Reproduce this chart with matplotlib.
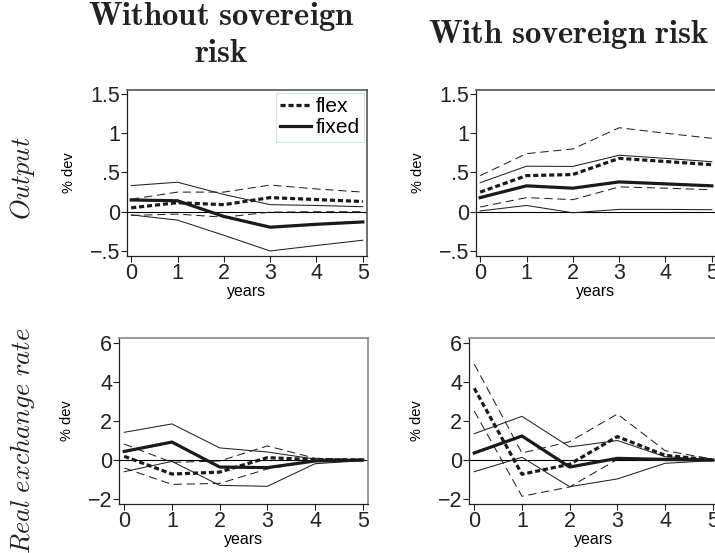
import matplotlib
matplotlib.use("Agg")
import matplotlib.pyplot as plt

plt.rcParams['font.family'] = ['Liberation Sans', 'DejaVu Sans']
plt.rcParams['mathtext.fontset'] = 'cm'

years = [0, 1, 2, 3, 4, 5]

# Output, without sovereign risk
out_nosr_flex = [0.05, 0.115, 0.09, 0.18, 0.155, 0.13]
out_nosr_flex_hi = [0.16, 0.25, 0.25, 0.34, 0.29, 0.25]
out_nosr_flex_lo = [-0.047, -0.03, -0.07, -0.005, 0.0, 0.0]
out_nosr_fixed = [0.15, 0.14, -0.06, -0.197, -0.16, -0.13]
out_nosr_fixed_hi = [0.333, 0.376, 0.22, 0.09, 0.08, 0.064]
out_nosr_fixed_lo = [-0.04, -0.107, -0.30, -0.50, -0.43, -0.363]

# Output, with sovereign risk
out_sr_flex = [0.25, 0.46, 0.474, 0.68, 0.64, 0.60]
out_sr_flex_hi = [0.46, 0.74, 0.80, 1.07, 1.0, 0.936]
out_sr_flex_lo = [0.06, 0.18, 0.154, 0.316, 0.30, 0.28]
out_sr_fixed = [0.18, 0.33, 0.30, 0.38, 0.355, 0.33]
out_sr_fixed_hi = [0.37, 0.58, 0.577, 0.72, 0.68, 0.637]
out_sr_fixed_lo = [0.01, 0.08, -0.013, 0.03, 0.03, 0.026]

# Real exchange rate, without sovereign risk
rer_nosr_flex = [0.19, -0.72, -0.62, 0.12, 0.02, 0.0]
rer_nosr_flex_hi = [0.82, -0.12, -0.05, 0.72, 0.09, 0.03]
rer_nosr_flex_lo = [-0.41, -1.25, -1.2, -0.46, -0.05, -0.02]
rer_nosr_fixed = [0.44, 0.92, -0.36, -0.39, -0.05, 0.0]
rer_nosr_fixed_hi = [1.42, 1.85, 0.62, 0.41, 0.05, 0.0]
rer_nosr_fixed_lo = [-0.6, -0.07, -1.3, -1.35, -0.19, -0.03]

# Real exchange rate, with sovereign risk
rer_sr_flex = [3.68, -0.73, -0.22, 1.2, 0.24, 0.0]
rer_sr_flex_hi = [4.92, 0.36, 0.94, 2.36, 0.48, 0.05]
rer_sr_flex_lo = [2.51, -1.86, -1.38, 0.03, -0.03, -0.03]
rer_sr_fixed = [0.36, 1.23, -0.36, 0.085, 0.03, 0.0]
rer_sr_fixed_hi = [1.35, 2.24, 0.67, 1.0, 0.17, 0.02]
rer_sr_fixed_lo = [-0.6, 0.14, -1.37, -0.97, -0.17, -0.03]

out_yticks = [-0.5, 0, 0.5, 1, 1.5]
out_yticklabels = ['\u2212.5', '0', '.5', '1', '1.5']
rer_yticks = [-2, 0, 2, 4, 6]
rer_yticklabels = ['\u22122', '0', '2', '4', '6']

W, H = 715, 553
fig = plt.figure(figsize=(W / 100, H / 100), dpi=100)


def add_ax(x0, y0, x1, y1):
    return fig.add_axes([x0 / W, 1 - y1 / H, (x1 - x0) / W, (y1 - y0) / H])


def panel(ax, flex, flex_hi, flex_lo, fixed, fixed_hi, fixed_lo,
          yticks, ylabels, ylim, xlim, frame_col, legend=False):
    ax.axhline(0, color='black', lw=0.8, zorder=1)
    thin = dict(color='#222222', lw=0.75, zorder=2)
    ax.plot(years, flex_hi, ls=(0, (8, 4.5)), **thin)
    ax.plot(years, flex_lo, ls=(0, (8, 4.5)), **thin)
    ax.plot(years, fixed_hi, ls='-', **thin)
    ax.plot(years, fixed_lo, ls='-', **thin)
    l1, = ax.plot(years, flex, color='#1a1a1a', lw=2.3, ls=(0, (1.6, 0.9)),
                  zorder=3, label='flex')
    l2, = ax.plot(years, fixed, color='#1a1a1a', lw=2.3, ls='-', zorder=3,
                  label='fixed')
    ax.set_xlim(*xlim)
    ax.set_ylim(*ylim)
    ax.set_xticks(years)
    ax.set_xticklabels([str(y) for y in years])
    ax.set_yticks(yticks)
    ax.set_yticklabels(ylabels)
    ax.tick_params(axis='both', labelsize=15.5, length=4, width=0.8,
                   colors='#222222', pad=1)
    ax.set_xlabel('years', fontsize=11.5, labelpad=0)
    ax.set_ylabel('% dev', fontsize=10.5, labelpad=10)
    for s in ['left', 'bottom']:
        ax.spines[s].set_color('#222222')
        ax.spines[s].set_linewidth(0.9)
    for s in ['top', 'right']:
        ax.spines[s].set_color(frame_col)
        ax.spines[s].set_linewidth(1.2)
    if legend:
        leg = ax.legend(handles=[l1, l2], loc='upper right', fontsize=15,
                        frameon=True, fancybox=False, handlelength=1.5,
                        handletextpad=0.2, borderpad=0.2, labelspacing=0.1,
                        borderaxespad=0.15, framealpha=1)
        leg.get_frame().set_edgecolor('#d5e0e4')
        leg.get_frame().set_linewidth(0.8)


top_xlim = (-0.09, 5.09)
bot_xlim = (-0.11, 5.11)
top_ylim = (-0.564, 1.551)
bot_ylim = (-2.256, 6.256)

ax1 = add_ax(127, 90, 367, 256)
panel(ax1, out_nosr_flex, out_nosr_flex_hi, out_nosr_flex_lo,
      out_nosr_fixed, out_nosr_fixed_hi, out_nosr_fixed_lo,
      out_yticks, out_yticklabels, top_ylim, top_xlim, '#555555', legend=True)

ax2 = add_ax(476, 90, 716, 256)
panel(ax2, out_sr_flex, out_sr_flex_hi, out_sr_flex_lo,
      out_sr_fixed, out_sr_fixed_hi, out_sr_fixed_lo,
      out_yticks, out_yticklabels, top_ylim, top_xlim, '#555555')

ax3 = add_ax(119, 338, 368, 504)
panel(ax3, rer_nosr_flex, rer_nosr_flex_hi, rer_nosr_flex_lo,
      rer_nosr_fixed, rer_nosr_fixed_hi, rer_nosr_fixed_lo,
      rer_yticks, rer_yticklabels, bot_ylim, bot_xlim, '#888888')

ax4 = add_ax(469, 338, 718, 504)
panel(ax4, rer_sr_flex, rer_sr_flex_hi, rer_sr_flex_lo,
      rer_sr_fixed, rer_sr_fixed_hi, rer_sr_fixed_lo,
      rer_yticks, rer_yticklabels, bot_ylim, bot_xlim, '#888888')

# Column titles
fig.text(221 / W, 1 - 25 / H, r'$\mathbf{Without\ sovereign}$', fontsize=23.5,
         ha='center', va='baseline', color='#222222')
fig.text(221 / W, 1 - 62 / H, r'$\mathbf{risk}$', fontsize=23.5,
         ha='center', va='baseline', color='#222222')
fig.text(569 / W, 1 - 43 / H, r'$\mathbf{With\ sovereign\ risk}$', fontsize=23.5,
         ha='center', va='baseline', color='#222222')

# Row labels
fig.text(23 / W, 1 - 178 / H, r'$\mathit{Output}$', fontsize=19,
         ha='center', va='center', rotation=90, color='#222222')
fig.text(23 / W, 1 - 441 / H, r'$\mathit{Real\ exchange\ rate}$', fontsize=19,
         ha='center', va='center', rotation=90, color='#222222')

fig.savefig('out.png', dpi=100)
